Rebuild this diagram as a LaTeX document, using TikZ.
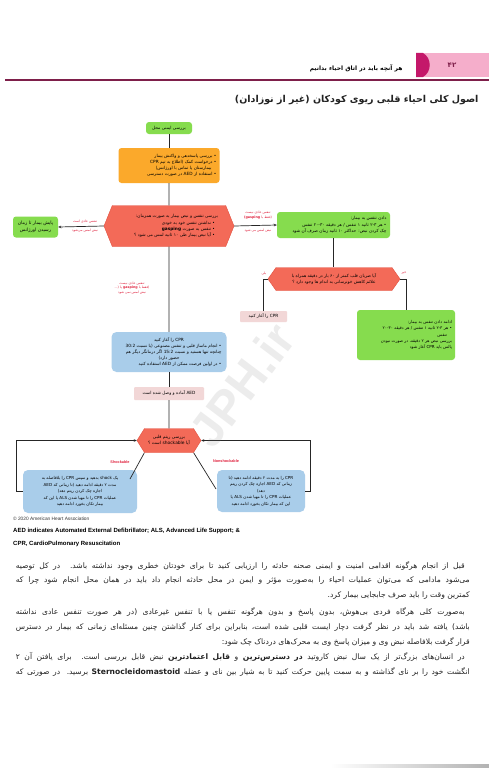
\documentclass[tikz,border=0pt]{standalone}
\usepackage{fontspec}
\setmainfont{Liberation Sans}
\newfontfamily\fa[Script=Arabic]{DejaVu Sans}
\TeXXeTstate=1
\usetikzlibrary{shapes.symbols,arrows.meta}
\newcommand{\myJsp}{\spaceskip=0.32em plus 1fil minus 0.05em\relax}
\definecolor{tabpink}{HTML}{F5AECB}
\definecolor{tabmag}{HTML}{C4186A}
\definecolor{hline}{HTML}{7E1F4A}
\definecolor{boxgreen}{HTML}{86DC4E}
\definecolor{boxorange}{HTML}{FBA92B}
\definecolor{hexred}{HTML}{F36A58}
\definecolor{hexedge}{HTML}{E2503F}
\definecolor{boxblue}{HTML}{A9CDEA}
\definecolor{boxpink}{HTML}{F2D7D7}
\definecolor{lblred}{HTML}{E0203C}
\definecolor{txt}{HTML}{222222}
\tikzset{
  flow/.style={font=\fa\fontsize{4.3}{6.2}\selectfont, text=black, inner sep=1pt},
  gbox/.style={flow, fill=boxgreen, rounded corners=3pt},
  obox/.style={flow, fill=boxorange, rounded corners=3pt},
  bbox/.style={flow, fill=boxblue, rounded corners=5pt},
  pbox/.style={flow, fill=boxpink, rounded corners=1pt},
  hexa/.style={flow, signal, signal to=west and east, fill=hexred, draw=hexedge, line width=0.4pt},
  lbl/.style={font=\fa\fontsize{3.3}{4.4}\selectfont, text=lblred, inner sep=0.3pt},
  conn/.style={draw=black!85, line width=0.7pt},
  arr/.style={conn, -{Stealth[length=3pt,width=2.6pt]}},
  para/.style={font=\fa\fontsize{7.6}{9}\selectfont, text=txt, anchor=east, inner sep=0pt},
}
\begin{document}
\begin{tikzpicture}[x=1pt,y=-1pt]
\useasboundingbox (0,0) rectangle (489,768);
\fill[white] (0,0) rectangle (489,768);
% header
\fill[tabpink] (420,53) rectangle (489,77);
\fill[tabmag] (416,53) -- (423,53) .. controls (432,58) and (432,72) .. (423,77) -- (416,77) -- cycle;
\node[font=\fa\bfseries\fontsize{7}{8}\selectfont, text=hline] (pg) at (452,65) {\beginR ۴۲\endR};
\node[font=\fa\bfseries\fontsize{6}{7}\selectfont, anchor=east] (hdr) at (406,68) {\beginR هر آنچه باید در اتاق احیاء بدانیم\endR};
\draw[hline, line width=1.3pt] (5,80) -- (489,80);
\node[font=\fa\bfseries\fontsize{9.5}{11}\selectfont, anchor=east, text=txt] (title) at (482,100) {\beginR اصول کلی احیاء قلبی ریوی کودکان (غیر از نوزادان)\endR};

% flowchart nodes
\node[gbox, minimum width=46, minimum height=12] (start) at (169,128) {\beginR بررسی ایمنی محل\endR};
\node[obox, minimum width=101, minimum height=35, text width=95, align=right] (orng) at (169,165.5) {%
\beginR • بررسی پاسخدهی و واکنش بیمار\endR\\
\beginR • درخواست کمک (اطلاع به تیم CPR\endR\\
\beginR \mbox{}\kern5pt بیمارستان یا تماس با اورژانس)\endR\\
\beginR • استفاده از AED در صورت دسترسی\endR};
\node[hexa, minimum width=130, minimum height=41, signal pointer angle=136, text width=98, align=right] (hex1) at (169,226) {%
\beginR بررسی تنفس و نبض بیمار به صورت همزمان:\endR\\
\beginR \mbox{}\kern3pt• نداشتن تنفس خود به خودی\endR\\
\beginR \mbox{}\kern3pt• تنفس به صورت \textbf{gasping}\endR\\
\beginR \mbox{}\kern3pt• آیا نبض بیمار طی ۱۰ ثانیه لمس می شود ؟\endR};
\node[gbox, minimum width=45, minimum height=21, align=center, font=\fa\fontsize{4.6}{7}\selectfont] (g1) at (35.5,227) {\beginR پایش بیمار تا زمان\endR\\\beginR رسیدن اورژانس\endR};
\node[gbox, minimum width=113, minimum height=26, text width=106, align=right] (g2) at (333.5,225) {%
\beginR دادن تنفس به بیمار:\endR\\
\beginR • هر ۲-۳ ثانیه ۱ تنفس / هر دقیقه ۲۰-۳۰ تنفس\endR\\
\beginR چک کردن نبض: حداکثر ۱۰ ثانیه زمان صرف آن شود\endR};
\node[hexa, minimum width=132, minimum height=23, signal pointer angle=110, align=center] (hex2) at (334,279) {%
\beginR آیا ضربان قلب کمتر از ۶۰ بار در دقیقه همراه با\endR\\
\beginR علائم کاهش خونرسانی به اندام ها وجود دارد ؟\endR};
\node[pbox, minimum width=47, minimum height=11] (cpr1) at (263.5,316.5) {\beginR CPR را آغاز کنید\endR};
\node[gbox, minimum width=98, minimum height=50, text width=92, align=right, font=\fa\fontsize{4.1}{6.3}\selectfont] (g3) at (406,335) {%
\beginR ادامه دادن تنفس به بیمار:\endR\\
\beginR • هر ۲-۳ ثانیه ۱ تنفس / هر دقیقه ۲۰-۳۰\endR\\
\beginR \mbox{}\kern5pt تنفس\endR\\
\beginR بررسی نبض هر ۲ دقیقه، در صورت نبودن\endR\\
\beginR پالس باید CPR آغاز شود\endR};
\node[bbox, minimum width=115, minimum height=40, text width=105, align=right] (b1) at (169,352) {%
\makebox[\linewidth]{\beginR CPR را آغاز کنید\endR}\\
\beginR • انجام ماساژ قلبی و تنفس مصنوعی (با نسبت 30:2\endR\\
\beginR چنانچه تنها هستید و نسبت 15:2 اگر درمانگر دیگر هم\endR\\
\makebox[\linewidth]{\beginR حضور دارد)\endR}\\
\beginR • در اولین فرصت ممکن از AED استفاده کنید\endR};
\node[pbox, minimum width=70, minimum height=13] (aed) at (169,393.5) {\beginR AED آماده و وصل شده است\endR};
\node[hexa, minimum width=64, minimum height=24, signal pointer angle=116, align=center, font=\fa\fontsize{4.4}{6}\selectfont] (hex3) at (169,440.5) {\beginR بررسی ریتم قلبی\endR\\\beginR آیا shockable است ؟\endR};
\node[bbox, minimum width=114, minimum height=43, align=center, font=\fa\fontsize{4.1}{6.5}\selectfont] (b2) at (80,491.5) {%
\beginR یک shock بدهید و سپس CPR را بلافاصله به\endR\\
\beginR مدت ۲ دقیقه ادامه دهید (تا زمانی که AED\endR\\
\beginR اجازه چک کردن ریتم دهد)\endR\\
\beginR عملیات CPR را تا مهیا شدن ALS یا این که\endR\\
\beginR بیمار تکان بخورد ادامه دهید\endR};
\node[bbox, minimum width=88, minimum height=42, align=center, font=\fa\fontsize{4.1}{6.5}\selectfont] (b3) at (261,491) {%
\beginR CPR را به مدت ۲ دقیقه ادامه دهید (تا\endR\\
\beginR زمانی که AED اجازه چک کردن ریتم\endR\\
\beginR دهد)\endR\\
\beginR عملیات CPR را تا مهیا شدن ALS یا\endR\\
\beginR این که بیمار تکان بخورد ادامه دهید\endR};

% labels
\node[lbl] (l1a) at (85,222) {\beginR تنفس عادی است\endR};
\node[lbl] (l1b) at (85,230.5) {\beginR نبض لمس می‌شود\endR};
\node[lbl, align=center] (l2a) at (258,215) {\beginR تنفس عادی نیست\endR\\\beginR (فقط با \textbf{(gasping}\endR};
\node[lbl] (l2b) at (258,230.5) {\beginR نبض لمس می شود\endR};
\node[lbl, align=center] (l3) at (132,288) {\beginR تنفس عادی نیست\endR\\\beginR (فقط با \textbf{gasping} یا (...\endR\\\beginR نبض لمس نمی شود\endR};
\node[lbl] (yes) at (264,273) {\beginR بلی\endR};
\node[lbl] (no) at (404,273) {\beginR خیر\endR};
\node[lbl, font=\bfseries\fontsize{3.8}{4}\selectfont] (shk) at (120,462) {Shockable};
\node[lbl, font=\bfseries\fontsize{3.8}{4}\selectfont] (nshk) at (226,461) {Nonshockable};

% connectors
\draw[conn] (start) -- (orng);
\draw[conn] (orng) -- (hex1);
\draw[arr] (hex1.west) -- (g1.east);
\draw[arr] (hex1.east) -- (g2.west);
\draw[conn] (g2.south) -- (g2.south |- hex2.north);
\draw[conn] (hex2.west) -| (cpr1.north);
\draw[conn] (hex2.east) -| (g3.north);
\draw[conn] (hex1) -- (b1);
\draw[conn] (b1) -- (aed);
\draw[conn] (aed) -- (hex3);
\coordinate (b2hit) at (130,479);
\coordinate (b3hit) at (216,489);
\draw[conn] (hex3.south west) -- (b2hit);
\draw[conn] (hex3.south east) -- (b3hit);
\draw[arr] (b2.west) -- ++(-6,0) |- (hex3.west);
\draw[arr] (b3.east) -- ++(5,0) |- (hex3.east);

% footer
\node[anchor=west, font=\fontsize{4.8}{5}\selectfont, text=black!80, inner sep=0] (copy) at (13,519) {© 2020 American Heart Association};
\node[anchor=west, font=\bfseries\fontsize{6}{12.5}\selectfont, align=left, inner sep=0] (abbr) at (13,537.5) {AED indicates Automated External Defibrillator; ALS, Advanced Life Support; \&\\CPR, CardioPulmonary Resuscitation};

% paragraphs
\node[para] (p1) at (465,566) {\hbox to 449pt{\myJsp\beginR قبل از انجام هرگونه اقدامی امنیت و ایمنی صحنه حادثه را ارزیابی کنید تا برای خودتان خطری وجود نداشته باشد. در کل توصیه\endR}};
\node[para] (p2) at (470,581) {\hbox to 454pt{\myJsp\beginR می‌شود مادامی که می‌توان عملیات احیاء را به‌صورت مؤثر و ایمن در محل حادثه انجام داد باید در همان محل انجام شود چرا که\endR}};
\node[para] (p3) at (470,596) {\hbox to 454pt{\hfill\beginR کمترین وقت را باید صرف جابجایی بیمار کرد.\endR}};
\node[para] (p4) at (465,612) {\hbox to 449pt{\myJsp\beginR به‌صورت کلی هرگاه فردی بی‌هوش، بدون پاسخ و بدون هرگونه تنفس یا با تنفس غیرعادی (در هر صورت تنفس عادی نداشته\endR}};
\node[para] (p5) at (470,627) {\hbox to 454pt{\myJsp\beginR باشد) یافته شد باید در نظر گرفت دچار ایست قلبی شده است، بنابراین برای کنار گذاشتن چنین مسئله‌ای زمانی که بیمار در دسترس\endR}};
\node[para] (p6) at (470,642) {\hbox to 454pt{\hfill\beginR قرار گرفت بلافاصله نبض وی و میزان پاسخ وی به محرک‌های دردناک چک شود:\endR}};
\node[para] (p7) at (465,657) {\hbox to 449pt{\myJsp\beginR در انسان‌های بزرگ‌تر از یک سال نبض کاروتید \textbf{در دسترس‌ترین} و \textbf{قابل اعتمادترین} نبض قابل بررسی است. برای یافتن آن ۲\endR}};
\node[para] (p8) at (470,672) {\hbox to 454pt{\myJsp\beginR انگشت خود را بر نای گذاشته و به سمت پایین حرکت کنید تا به شیار بین نای و عضله \textbf{Sternocleidomastoid} برسید. در صورتی که\endR}};

% page edge shadow
\shade[left color=white, right color=gray!60] (330,764) rectangle (489,768);

% watermark
\node[rotate=53, text=gray, opacity=0.15, font=\bfseries\fontsize{48}{48}\selectfont] (wm) at (242,385) {JPH.ir};
\end{tikzpicture}
\end{document}
